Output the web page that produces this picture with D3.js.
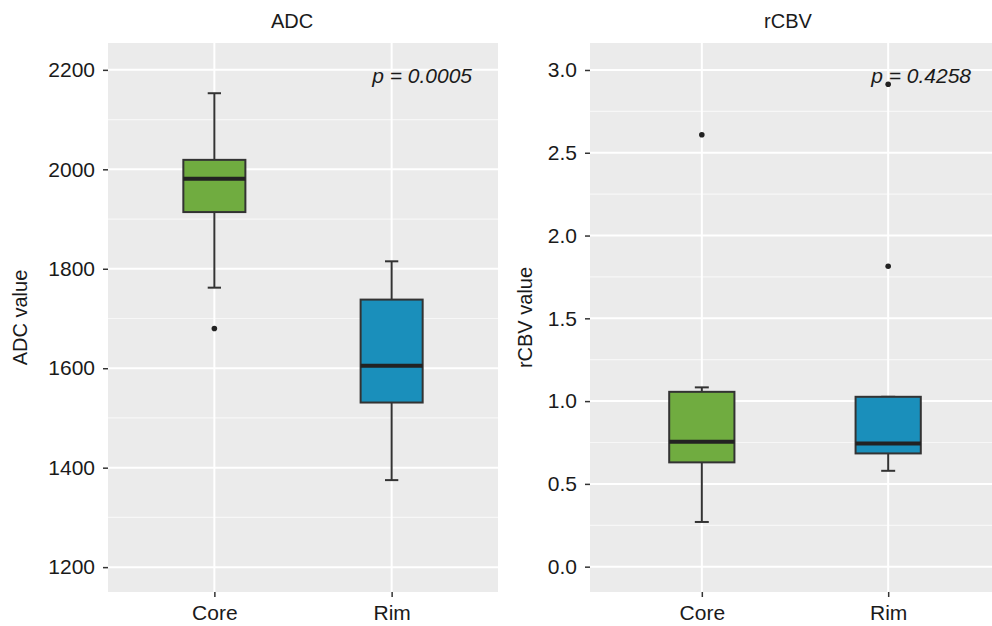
<!DOCTYPE html>
<html>
<head>
<meta charset="utf-8">
<script src="https://cdn.jsdelivr.net/npm/d3@7"></script>
<style>
  body { margin: 0; background: #fff; }
  svg { display: block; font-family: "Liberation Sans", Arial, sans-serif; }
</style>
</head>
<body>
<div id="chart"></div>
<script>
var groups = ["Core", "Rim"],
    groupColours = ["#70ac40", "#1a8fbb"];

// ADC box stats
var adcLow = [1762, 1375],
    adcQ1 = [1914, 1531],
    adcMedian = [1981, 1605],
    adcQ3 = [2019, 1738],
    adcHigh = [2153, 1815],
    adcOutliers = [[1680], []],
    adcTicks = [1200, 1400, 1600, 1800, 2000, 2200],
    adcMinor = [1300, 1500, 1700, 1900, 2100];

// rCBV box stats
var rcbvLow = [0.27, 0.579],
    rcbvQ1 = [0.63, 0.684],
    rcbvMedian = [0.754, 0.744],
    rcbvQ3 = [1.056, 1.026],
    rcbvHigh = [1.083, 1.026],
    rcbvOutliers = [[2.609], [2.914, 1.815]],
    rcbvTicks = [0, 0.5, 1.0, 1.5, 2.0, 2.5, 3.0],
    rcbvMinor = [0.25, 0.75, 1.25, 1.75, 2.25, 2.75];

var width = 992, height = 626;

var svg = d3.select("#chart").append("svg")
  .attr("width", width)
  .attr("height", height);

function drawPanel(opts) {
  var x = d3.scalePoint().domain(groups).range([opts.left, opts.right]).padding(0.6),
      y = d3.scaleLinear().domain(opts.domain).range([opts.bottom, opts.top]),
      step = x.step(),
      boxW = step * 0.35,
      capW = step * 0.075;

  var g = svg.append("g");

  g.append("rect")
    .attr("x", opts.left).attr("y", opts.top)
    .attr("width", opts.right - opts.left)
    .attr("height", opts.bottom - opts.top)
    .attr("fill", "#ebebeb");

  // minor grid
  g.selectAll(null).data(opts.minor).enter().append("line")
    .attr("x1", opts.left).attr("x2", opts.right)
    .attr("y1", function(d) { return y(d); })
    .attr("y2", function(d) { return y(d); })
    .attr("stroke", "#f7f7f7").attr("stroke-width", 1.2);

  // major grid
  g.selectAll(null).data(opts.ticks).enter().append("line")
    .attr("x1", opts.left).attr("x2", opts.right)
    .attr("y1", function(d) { return y(d); })
    .attr("y2", function(d) { return y(d); })
    .attr("stroke", "#fff").attr("stroke-width", 2);

  g.selectAll(null).data(groups).enter().append("line")
    .attr("x1", function(d) { return x(d); })
    .attr("x2", function(d) { return x(d); })
    .attr("y1", opts.top).attr("y2", opts.bottom)
    .attr("stroke", "#fff").attr("stroke-width", 2);

  // axes
  var yAxis = g.append("g")
    .attr("transform", "translate(" + opts.left + ",0)")
    .call(d3.axisLeft(y).tickValues(opts.ticks).tickSize(5).tickPadding(8).tickFormat(opts.format));
  yAxis.select(".domain").remove();
  yAxis.selectAll(".tick line").attr("stroke", "#333").attr("stroke-width", 1.5);
  yAxis.selectAll(".tick text").attr("fill", "#1a1a1a").style("font-size", "21px");

  var xAxis = g.append("g")
    .attr("transform", "translate(0," + opts.bottom + ")")
    .call(d3.axisBottom(x).tickSize(5).tickPadding(8));
  xAxis.select(".domain").remove();
  xAxis.selectAll(".tick line").attr("stroke", "#333").attr("stroke-width", 1.5);
  xAxis.selectAll(".tick text").attr("fill", "#1a1a1a").style("font-size", "21px");

  // boxes
  groups.forEach(function(name, i) {
    var cx = x(name);
    var bx = g.append("g");
    // whiskers
    bx.append("line")
      .attr("x1", cx).attr("x2", cx)
      .attr("y1", y(opts.high[i])).attr("y2", y(opts.q3[i]))
      .attr("stroke", "#333").attr("stroke-width", 2);
    bx.append("line")
      .attr("x1", cx).attr("x2", cx)
      .attr("y1", y(opts.q1[i])).attr("y2", y(opts.low[i]))
      .attr("stroke", "#333").attr("stroke-width", 2);
    [opts.high[i], opts.low[i]].forEach(function(v) {
      bx.append("line")
        .attr("x1", cx - capW / 2).attr("x2", cx + capW / 2)
        .attr("y1", y(v)).attr("y2", y(v))
        .attr("stroke", "#333").attr("stroke-width", 2);
    });
    bx.append("rect")
      .attr("x", cx - boxW / 2).attr("width", boxW)
      .attr("y", y(opts.q3[i]))
      .attr("height", y(opts.q1[i]) - y(opts.q3[i]))
      .attr("fill", groupColours[i])
      .attr("stroke", "#333").attr("stroke-width", 2);
    bx.append("line")
      .attr("x1", cx - boxW / 2).attr("x2", cx + boxW / 2)
      .attr("y1", y(opts.median[i])).attr("y2", y(opts.median[i]))
      .attr("stroke", "#222").attr("stroke-width", 4);
    bx.selectAll(null).data(opts.outliers[i]).enter().append("circle")
      .attr("cx", cx).attr("cy", function(d) { return y(d); })
      .attr("r", 2.8).attr("fill", "#222");
  });

  // title
  svg.append("text")
    .attr("x", opts.titleX).attr("y", 28)
    .attr("text-anchor", "middle")
    .attr("fill", "#1a1a1a")
    .style("font-size", "20px")
    .text(opts.title);

  // y axis title
  svg.append("text")
    .attr("transform", "translate(" + opts.yTitleX + "," + ((opts.top + opts.bottom) / 2) + ") rotate(-90)")
    .attr("text-anchor", "middle")
    .attr("fill", "#1a1a1a")
    .style("font-size", "20px")
    .text(opts.yTitle);

  // p value
  svg.append("text")
    .attr("x", opts.pX).attr("y", 83)
    .attr("text-anchor", "end")
    .attr("fill", "#1a1a1a")
    .style("font-size", "21px")
    .style("font-style", "italic")
    .text(opts.pText);
}

drawPanel({
  left: 108, right: 498, top: 43, bottom: 592,
  domain: [1150, 2254],
  ticks: adcTicks, minor: adcMinor,
  format: d3.format("d"),
  low: adcLow, q1: adcQ1, median: adcMedian, q3: adcQ3, high: adcHigh, outliers: adcOutliers,
  title: "ADC", titleX: 292,
  yTitle: "ADC value", yTitleX: 27,
  pText: "p = 0.0005", pX: 472
});

drawPanel({
  left: 590, right: 1000, top: 43, bottom: 592,
  domain: [-0.153, 3.163],
  ticks: rcbvTicks, minor: rcbvMinor,
  format: d3.format(".1f"),
  low: rcbvLow, q1: rcbvQ1, median: rcbvMedian, q3: rcbvQ3, high: rcbvHigh, outliers: rcbvOutliers,
  title: "rCBV", titleX: 788,
  yTitle: "rCBV value", yTitleX: 532,
  pText: "p = 0.4258", pX: 971
});
</script>
</body>
</html>
